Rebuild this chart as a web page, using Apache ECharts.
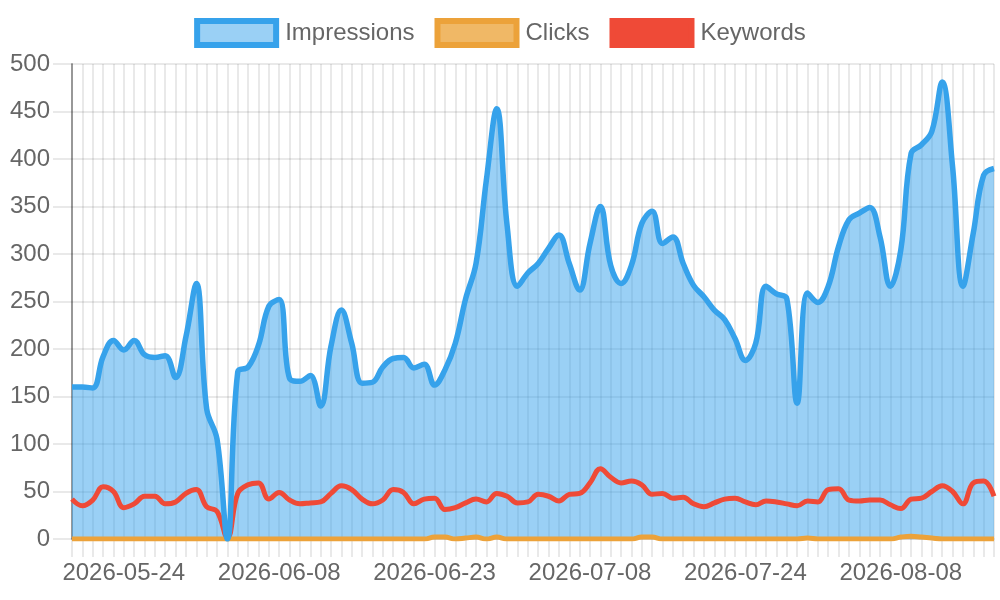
<!DOCTYPE html>
<html>
<head>
<meta charset="utf-8">
<title>Impressions / Clicks / Keywords</title>
<script src="https://cdn.jsdelivr.net/npm/echarts@6/dist/echarts.min.js"></script>
<style>
    html, body { margin: 0; padding: 0; background: #fff; }
    #chart { width: 1000px; height: 600px; }
</style>
</head>
<body>
<div id="chart"></div>
<script>
// daily categories (07-16 is missing in the source)
var dates = [
    '2026-05-19','2026-05-20','2026-05-21','2026-05-22','2026-05-23','2026-05-24','2026-05-25','2026-05-26','2026-05-27','2026-05-28',
    '2026-05-29','2026-05-30','2026-05-31','2026-06-01','2026-06-02','2026-06-03','2026-06-04','2026-06-05','2026-06-06','2026-06-07',
    '2026-06-08','2026-06-09','2026-06-10','2026-06-11','2026-06-12','2026-06-13','2026-06-14','2026-06-15','2026-06-16','2026-06-17',
    '2026-06-18','2026-06-19','2026-06-20','2026-06-21','2026-06-22','2026-06-23','2026-06-24','2026-06-25','2026-06-26','2026-06-27',
    '2026-06-28','2026-06-29','2026-06-30','2026-07-01','2026-07-02','2026-07-03','2026-07-04','2026-07-05','2026-07-06','2026-07-07',
    '2026-07-08','2026-07-09','2026-07-10','2026-07-11','2026-07-12','2026-07-13','2026-07-14','2026-07-15','2026-07-17','2026-07-18',
    '2026-07-19','2026-07-20','2026-07-21','2026-07-22','2026-07-23','2026-07-24','2026-07-25','2026-07-26','2026-07-27','2026-07-28',
    '2026-07-29','2026-07-30','2026-07-31','2026-08-01','2026-08-02','2026-08-03','2026-08-04','2026-08-05','2026-08-06','2026-08-07',
    '2026-08-08','2026-08-09','2026-08-10','2026-08-11','2026-08-12','2026-08-13','2026-08-14','2026-08-15','2026-08-16','2026-08-17'
];

var impressions = [
    160, 160, 159, 192, 209, 199, 209, 194, 191, 193,
    170, 213, 269, 137, 105,   0, 176, 181, 204, 245,
    252, 169, 166, 172, 140, 203, 241, 206, 164, 165,
    181, 190, 191, 180, 184, 162, 178, 206, 253, 290,
    378, 453, 330, 266, 280, 290, 306, 320, 290, 262,
    311, 350, 288, 269, 288, 332, 345, 311, 318, 290,
    267, 255, 241, 231, 211, 188, 206, 266, 258, 253,
    143, 259, 249, 266, 308, 336, 343, 349, 318, 266,
    304, 406, 415, 429, 481, 392, 266, 322, 383, 390
];

var clicks = [
    0, 0, 0, 0, 0, 0, 0, 0, 0, 0,
    0, 0, 0, 0, 0, 0, 0, 0, 0, 0,
    0, 0, 0, 0, 0, 0, 0, 0, 0, 0,
    0, 0, 0, 0, 0, 2, 2, 0, 1, 2,
    0, 2, 0, 0, 0, 0, 0, 0, 0, 0,
    0, 0, 0, 0, 0, 2, 2, 0, 0, 0,
    0, 0, 0, 0, 0, 0, 0, 0, 0, 0,
    0, 1, 0, 0, 0, 0, 0, 0, 0, 0,
    2, 3, 2, 1, 0, 0, 0, 0, 0, 0
];

var keywords = [
    42, 35, 41, 55, 50, 33, 37, 45, 45, 37,
    39, 48, 52, 34, 29,  1, 48, 57, 59, 42,
    49, 41, 37, 38, 39, 48, 56, 52, 42, 37,
    41, 52, 49, 37, 42, 43, 31, 33, 38, 42,
    39, 48, 45, 38, 39, 47, 45, 40, 47, 48,
    59, 74, 65, 59, 61, 57, 47, 48, 43, 44,
    37, 34, 38, 42, 43, 39, 36, 40, 39, 37,
    35, 40, 39, 52, 53, 41, 40, 41, 41, 36,
    32, 42, 43, 50, 56, 50, 37, 59, 61, 45
];

var font = 'Liberation Sans';
var gridColor = 'rgba(0,0,0,0.085)';
var blue = '#36a2eb', orange = '#eca23a', red = '#ef4a37';

var chart = echarts.init(document.getElementById('chart'));
var option = {
    animation: false,
    legend: {
        top: 13,
        left: 'center',
        icon: 'rect',
        itemWidth: 79,
        itemHeight: 24,
        itemGap: 20,
        selectedMode: false,
        textStyle: { fontFamily: font, fontSize: 24, color: '#666', padding: [0, 0, 0, 4] },
        data: [
            { name: 'Impressions', itemStyle: { color: 'rgba(54,162,235,0.5)', borderColor: blue, borderWidth: 6 } },
            { name: 'Clicks', itemStyle: { color: '#f0b866', borderColor: orange, borderWidth: 6 } },
            { name: 'Keywords', itemStyle: { color: red, borderColor: red, borderWidth: 6 } }
        ]
    },
    grid: { left: 72, right: 6, top: 64, bottom: 61, containLabel: false },
    xAxis: {
        type: 'category',
        boundaryGap: false,
        data: dates,
        axisLine: { show: true, lineStyle: { color: gridColor, width: 2 } },
        axisTick: { show: true, interval: 0, length: 18, lineStyle: { color: gridColor, width: 2 } },
        splitLine: { show: true, interval: 0, lineStyle: { color: gridColor, width: 2 } },
        axisLabel: {
            interval: function (idx) { return idx % 15 === 5; },
            margin: 22,
            fontFamily: font,
            fontSize: 24,
            color: '#666'
        }
    },
    yAxis: {
        type: 'value',
        min: 0,
        max: 500,
        interval: 50,
        axisLine: { show: true, lineStyle: { color: 'rgba(0,0,0,0.35)', width: 2 } },
        axisTick: { show: true, length: 19, lineStyle: { color: gridColor, width: 2 } },
        splitLine: { show: true, lineStyle: { color: gridColor, width: 2 } },
        axisLabel: { margin: 22, fontFamily: font, fontSize: 24, color: '#666' }
    },
    series: [
        // fill first, so the other lines sit on top of it
        {
            name: 'Impressions', type: 'line', data: impressions, smooth: 0.4,
            showSymbol: false, silent: true, z: 1,
            lineStyle: { width: 0 },
            itemStyle: { color: blue },
            areaStyle: { color: 'rgba(54,162,235,0.5)', opacity: 1, origin: 'start' }
        },
        {
            name: 'Keywords', type: 'line', data: keywords, smooth: 0.4,
            showSymbol: false, z: 2,
            itemStyle: { color: red },
            lineStyle: { color: red, width: 5 }
        },
        {
            name: 'Clicks', type: 'line', data: clicks, smooth: 0.4,
            showSymbol: false, z: 3,
            itemStyle: { color: orange },
            lineStyle: { color: orange, width: 5 }
        },
        {
            name: 'Impressions', type: 'line', data: impressions, smooth: 0.4,
            showSymbol: false, z: 4,
            itemStyle: { color: blue },
            lineStyle: { color: blue, width: 5.5 }
        }
    ]
};
chart.setOption(option);
</script>
</body>
</html>
